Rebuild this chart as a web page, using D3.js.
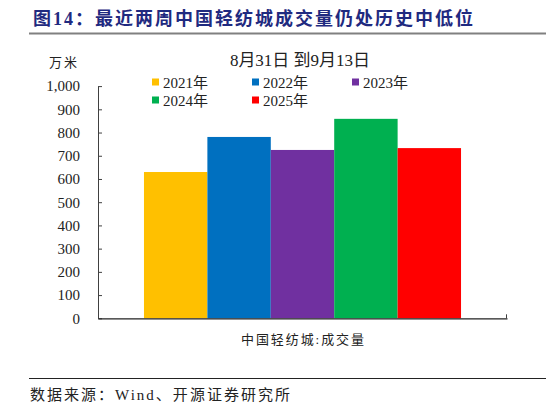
<!DOCTYPE html>
<html><head><meta charset="utf-8">
<script src="https://cdn.jsdelivr.net/npm/d3@7"></script>
<style>
body{margin:0;background:#fff;}
svg{display:block;}
</style></head>
<body>
<svg id="c" width="546" height="408"></svg>
<script>
const categories = ["中国轻纺城:成交量"];
const years = ["2021年","2022年","2023年","2024年","2025年"];
const values = [630, 781, 725, 859, 733];
const colors = ["#FFC000","#0070C0","#7030A0","#00B050","#FF0000"];
const yTicks = [0,100,200,300,400,500,600,700,800,900,1000];

const serif = "'Liberation Serif','Times New Roman','Noto Sans CJK SC',serif";
const cjk = "'Liberation Serif','Noto Sans CJK SC',sans-serif";
const svg = d3.select("#c");

// Header
svg.append("text").attr("x",33).attr("y",25)
  .attr("font-family",cjk).attr("font-weight","bold").attr("font-size",18)
  .attr("fill","#1F2A80").attr("textLength",440).attr("lengthAdjust","spacing")
  .text("图14：最近两周中国轻纺城成交量仍处历史中低位");
svg.append("line").attr("x1",29).attr("x2",546).attr("y1",33.5).attr("y2",33.5)
  .attr("stroke","#808080").attr("stroke-width",2);

// Scales
const x0 = d3.scaleBand().domain(categories).range([98,507]).padding(0);
const x1 = d3.scaleBand().domain(years).range([0,x0.bandwidth()]).paddingInner(0).paddingOuter(0.725);
const y = d3.scaleLinear().domain([0,1000]).range([318.3,86.1]);

// Bars
const g = svg.append("g");
categories.forEach(cat=>{
  g.selectAll(null).data(years).enter().append("rect")
    .attr("x",d=>x0(cat)+x1(d))
    .attr("width",x1.bandwidth())
    .attr("y",(d,i)=>y(values[i]))
    .attr("height",(d,i)=>y(0)-y(values[i]))
    .attr("fill",(d,i)=>colors[i]);
});

// Y axis
const yAxis = d3.axisLeft(y).tickValues(yTicks).tickSizeInner(-4).tickSizeOuter(0)
  .tickPadding(18).tickFormat(d3.format(","));
const ya = svg.append("g").attr("transform","translate(98,0)").call(yAxis);
ya.select(".domain").attr("stroke","#404040");
ya.selectAll(".tick line").attr("stroke","#404040");
ya.selectAll("text").attr("font-family",serif).attr("font-size",15).attr("fill","#222");

// X axis
const xAxis = d3.axisBottom(x0).tickSize(0).tickPadding(14);
const xa = svg.append("g").attr("transform",`translate(0,${y(0)})`).call(xAxis);
xa.select(".domain").attr("stroke","#222").attr("stroke-width",1.3);
xa.selectAll("text").attr("font-family",cjk).attr("font-size",13).attr("fill","#222").attr("dy","0.9em")
  .attr("textLength",123).attr("lengthAdjust","spacing");
xa.append("line").attr("x1",506.5).attr("x2",506.5).attr("y1",0).attr("y2",-4).attr("stroke","#404040");

// Unit label
svg.append("text").attr("x",64).attr("y",67).attr("text-anchor","middle")
  .attr("font-family",cjk).attr("font-size",13).attr("fill","#222").attr("letter-spacing",2).text("万米");

// Chart title
svg.append("text").attr("x",300).attr("y",66).attr("text-anchor","middle")
  .attr("font-family",cjk).attr("font-size",17).attr("fill","#222").text("8月31日 到9月13日");

// Legend
const legPos = [[152,82],[252,82],[352,82],[152,100],[252,100]];
years.forEach((yr,i)=>{
  const [lx,ly] = legPos[i];
  svg.append("rect").attr("x",lx).attr("y",ly-3.5).attr("width",7).attr("height",7).attr("fill",colors[i]);
  svg.append("text").attr("x",lx+11).attr("y",ly+5.5)
    .attr("font-family",cjk).attr("font-size",15).attr("fill","#222").text(yr);
});

// Footer
svg.append("line").attr("x1",29).attr("x2",546).attr("y1",378.5).attr("y2",378.5)
  .attr("stroke","#222").attr("stroke-width",1);
svg.append("text").attr("x",30).attr("y",400)
  .attr("font-family",cjk).attr("font-size",15).attr("fill","#222")
  .attr("textLength",260).attr("lengthAdjust","spacing").text("数据来源：Wind、开源证券研究所");
</script>
</body></html>
